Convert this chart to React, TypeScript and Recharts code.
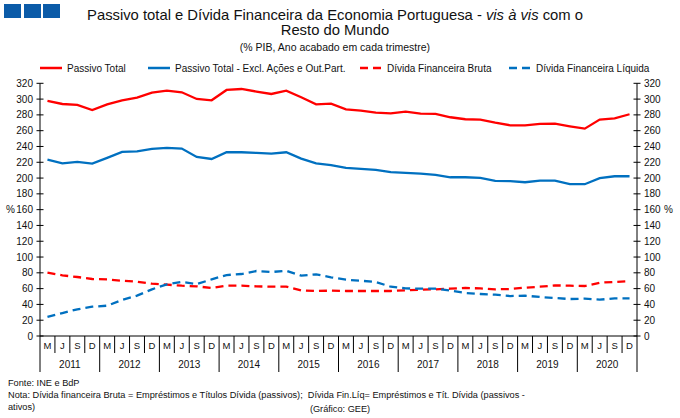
import React from 'react';
import { LineChart, Line, XAxis, YAxis, Legend } from 'recharts';

// Quarter codes and years (year ending each quarter)
const quarters = ['M', 'J', 'S', 'D'];
const years = ['2011', '2012', '2013', '2014', '2015', '2016', '2017', '2018', '2019', '2020'];

// % of GDP
const passivoTotal = [
  297.6, 293.8, 292.6, 286.2, 293.4, 298.5, 301.9, 308.2, 310.7, 308.6,
  300.2, 298.5, 311.6, 312.8, 309.5, 306.5, 310.7, 302.3, 293.4, 294.3,
  287.1, 285.4, 282.9, 282.0, 284.1, 281.6, 281.2, 277.0, 274.5, 274.1,
  270.2, 266.8, 266.8, 268.5, 268.9, 265.6, 262.6, 274.1, 275.7, 280.8,
];
const passivoExcl = [
  223.4, 218.7, 220.4, 218.3, 225.5, 233.1, 233.9, 236.9, 238.1, 237.3,
  226.8, 224.2, 232.7, 232.7, 231.8, 231.0, 232.7, 224.7, 218.7, 216.5,
  212.8, 211.6, 210.3, 207.4, 206.5, 205.7, 204.0, 201.0, 201.0, 200.2,
  196.4, 196.0, 194.7, 196.8, 196.8, 192.2, 192.2, 199.8, 202.3, 202.3,
];
const dividaBruta = [
  80.2, 76.8, 74.7, 72.2, 71.7, 70.0, 68.8, 66.2, 65.0, 63.7,
  62.9, 60.8, 63.7, 63.7, 62.9, 62.4, 62.4, 57.8, 57.0, 57.4,
  57.0, 57.0, 57.0, 57.0, 57.8, 58.6, 59.1, 59.9, 60.8, 60.3,
  59.1, 59.5, 61.2, 62.4, 64.1, 63.7, 63.3, 67.5, 68.4, 69.6,
];
const dividaLiquida = [
  24.1, 29.1, 33.8, 37.1, 38.4, 45.6, 51.1, 59.1, 65.4, 68.4,
  65.8, 71.7, 77.2, 78.5, 82.3, 81.0, 82.7, 76.4, 78.1, 74.3,
  71.3, 70.0, 68.4, 62.4, 60.3, 59.9, 59.9, 57.4, 54.4, 53.2,
  52.3, 50.6, 51.1, 49.4, 48.1, 46.8, 47.3, 46.0, 47.7, 47.7,
];

const yTicks = [0, 20, 40, 60, 80, 100, 120, 140, 160, 180, 200, 220, 240, 260, 280, 300, 320];

const seriesNames = {
  pt: 'Passivo Total',
  pe: 'Passivo Total - Excl. Ações e Out.Part.',
  db: 'Dívida Financeira Bruta',
  dl: 'Dívida Financeira Líquida',
};

const RED = '#ff0000';
const BLUE = '#0070c0';
const FONT = '"Liberation Sans", Arial, sans-serif';

const data = years.flatMap((y, yi) =>
  quarters.map((q, qi) => {
    const i = yi * 4 + qi;
    return {
      periodo: `${y}-${q}`,
      pt: passivoTotal[i],
      pe: passivoExcl[i],
      db: dividaBruta[i],
      dl: dividaLiquida[i],
    };
  })
);

const W = 680;
const H = 418;
const PLOT_L = 40;
const PLOT_R = 637;
const PLOT_B = 336;
const STEP = (PLOT_R - PLOT_L) / data.length;

const LeftTick = (props: any) => {
  const { x, y, payload } = props;
  return (
    <g>
      <line x1={x - 3.5} x2={x + 3.5} y1={y} y2={y} stroke="#000" strokeWidth={1} />
      <text x={x - 7} y={y} dy={3.5} textAnchor="end" fontSize={10} fill="#111" fontFamily={FONT}>
        {payload.value}
      </text>
    </g>
  );
};

const RightTick = (props: any) => {
  const { x, y, payload } = props;
  return (
    <g>
      <line x1={x - 3.5} x2={x + 3.5} y1={y} y2={y} stroke="#000" strokeWidth={1} />
      <text x={x + 7} y={y} dy={3.5} textAnchor="start" fontSize={10} fill="#111" fontFamily={FONT}>
        {payload.value}
      </text>
    </g>
  );
};

const QuarterTick = (props: any) => {
  const { x, y, payload, index } = props;
  const [yr, q] = String(payload.value).split('-');
  const left = x - STEP / 2;
  const first = index % 4 === 0;
  const last = index === data.length - 1;
  return (
    <g>
      <line x1={left} x2={left} y1={y} y2={first ? y + 36 : y + 17} stroke="#000" strokeWidth={1} />
      {last && <line x1={x + STEP / 2} x2={x + STEP / 2} y1={y} y2={y + 36} stroke="#000" strokeWidth={1} />}
      <text x={x} y={y + 12.5} textAnchor="middle" fontSize={9.5} fill="#111" fontFamily={FONT}>
        {q}
      </text>
      {first && (
        <text x={left + STEP * 2} y={y + 31.5} textAnchor="middle" fontSize={10} fill="#111" fontFamily={FONT}>
          {yr}
        </text>
      )}
    </g>
  );
};

const legendItems = [
  { key: 'pt', color: RED, dash: undefined, x: 40 },
  { key: 'pe', color: BLUE, dash: undefined, x: 148 },
  { key: 'db', color: RED, dash: '8 5', x: 360 },
  { key: 'dl', color: BLUE, dash: '8 5', x: 509 },
];

const LegendContent = () => (
  <svg width={W} height={16} style={{ display: 'block' }}>
    {legendItems.map((it) => (
      <g key={it.key}>
        <line x1={it.x} x2={it.x + 22} y1={8} y2={8} stroke={it.color} strokeWidth={2.5} strokeDasharray={it.dash} />
        <text x={it.x + 27} y={8} dy={3.5} fontSize={10} fill="#111" fontFamily={FONT}>
          {seriesNames[it.key as keyof typeof seriesNames]}
        </text>
      </g>
    ))}
  </svg>
);

export default function App() {
  return (
    <div style={{ position: 'relative', width: W, height: H, background: '#fff', fontFamily: FONT }}>
      <style>{`body{margin:0;}`}</style>

      {/* three blue squares */}
      {[4, 23.5, 43].map((x) => (
        <div key={x} style={{ position: 'absolute', left: x, top: 4, width: 17, height: 14, background: '#0b5ba8' }} />
      ))}

      <div style={{ position: 'absolute', left: 0, width: 670, top: 8, textAlign: 'center', fontSize: 14.8, lineHeight: '15px', color: '#111' }}>
        Passivo total e Dívida Financeira da Economia Portuguesa - <i>vis à vis</i> com o
        <br />
        Resto do Mundo
      </div>
      <div style={{ position: 'absolute', left: 0, width: 670, top: 41, textAlign: 'center', fontSize: 10.5, color: '#111' }}>
        (% PIB, Ano acabado em cada trimestre)
      </div>

      <LineChart width={W} height={H} data={data} margin={{ top: 83.3, right: 0, bottom: 0, left: 0 }}>
        <XAxis
          dataKey="periodo"
          height={H - PLOT_B}
          interval={0}
          tickSize={0}
          tickMargin={0}
          tickLine={false}
          padding={{ left: STEP / 2, right: STEP / 2 }}
          axisLine={{ stroke: '#000' }}
          tick={<QuarterTick />}
        />
        <YAxis
          yAxisId="l"
          orientation="left"
          width={PLOT_L}
          domain={[0, 320]}
          ticks={yTicks}
          interval={0}
          tickSize={0}
          tickMargin={0}
          tickLine={false}
          axisLine={{ stroke: '#000' }}
          tick={<LeftTick />}
        />
        <YAxis
          yAxisId="r"
          orientation="right"
          width={W - PLOT_R}
          domain={[0, 320]}
          ticks={yTicks}
          interval={0}
          tickSize={0}
          tickMargin={0}
          tickLine={false}
          axisLine={{ stroke: '#000' }}
          tick={<RightTick />}
        />
        <Legend
          layout="horizontal"
          verticalAlign="middle"
          content={<LegendContent />}
          wrapperStyle={{ position: 'absolute', top: 60, left: 0, width: W, height: 16 }}
        />
        <Line yAxisId="l" dataKey="pt" name={seriesNames.pt} stroke={RED} strokeWidth={2.3} dot={false} activeDot={false} isAnimationActive={false} />
        <Line yAxisId="l" dataKey="pe" name={seriesNames.pe} stroke={BLUE} strokeWidth={2.3} dot={false} activeDot={false} isAnimationActive={false} />
        <Line yAxisId="r" dataKey="db" name={seriesNames.db} stroke={RED} strokeWidth={2.3} strokeDasharray="8 5" dot={false} activeDot={false} isAnimationActive={false} />
        <Line yAxisId="r" dataKey="dl" name={seriesNames.dl} stroke={BLUE} strokeWidth={2.3} strokeDasharray="8 5" dot={false} activeDot={false} isAnimationActive={false} />
      </LineChart>

      <div style={{ position: 'absolute', left: 6, top: 204, fontSize: 10, color: '#111' }}>%</div>
      <div style={{ position: 'absolute', left: 664, top: 204, fontSize: 10, color: '#111' }}>%</div>

      <div style={{ position: 'absolute', left: 8, top: 377, fontSize: 9.2, lineHeight: '12px', color: '#111' }}>
        Fonte: INE e BdP
      </div>
      <div style={{ position: 'absolute', left: 8, top: 389, width: 560, fontSize: 9.2, lineHeight: '12px', color: '#111' }}>
        Nota: Dívida financeira Bruta = Empréstimos e Títulos Dívida (passivos);&nbsp; Dívida Fin.Líq= Empréstimos e Tít. Dívida (passivos -
        <br />
        ativos)
      </div>
      <div style={{ position: 'absolute', left: 0, width: 680, top: 403, textAlign: 'center', fontSize: 9.2, lineHeight: '12px', color: '#111' }}>
        (Gráfico: GEE)
      </div>
    </div>
  );
}
